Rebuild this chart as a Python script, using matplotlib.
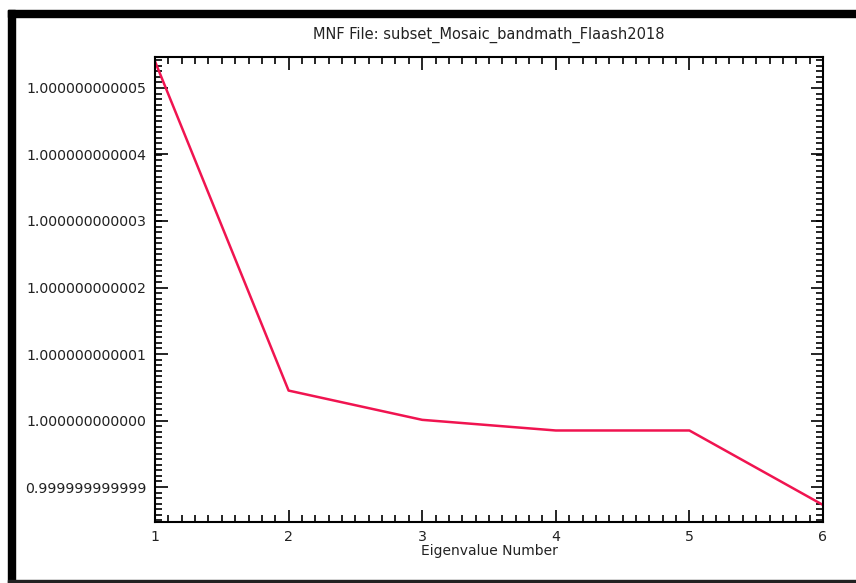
import matplotlib
matplotlib.use('Agg')
import matplotlib.pyplot as plt
from matplotlib.patches import Rectangle
from matplotlib.ticker import MultipleLocator, AutoMinorLocator, FormatStrFormatter

# MNF eigenvalues
eig_number = [1, 2, 3, 4, 5, 6]
eig_value = [1.0000000000054, 1.00000000000045, 1.00000000000001,
             0.99999999999985, 0.99999999999985, 0.99999999999873]

title = 'MNF File: subset_Mosaic_bandmath_Flaash2018'
xlabel = 'Eigenvalue Number'

W, H = 856, 583
fig = plt.figure(figsize=(W / 100, H / 100), dpi=100)
fig.patch.set_facecolor('white')

ax = fig.add_axes([155 / W, 1 - 522 / H, (823 - 155) / W, (522 - 57) / H])
ax.plot(eig_number, eig_value, color='#f01450', lw=1.8)

ax.set_xlim(1, 6)
ax.set_ylim(1 - 1.526e-12, 1 + 5.466e-12)
ax.xaxis.set_major_locator(MultipleLocator(1))
ax.xaxis.set_minor_locator(AutoMinorLocator(10))
ax.yaxis.set_major_locator(MultipleLocator(1e-12))
ax.yaxis.set_minor_locator(AutoMinorLocator(12))
ax.yaxis.set_major_formatter(FormatStrFormatter('%.12f'))
ax.xaxis.set_major_formatter(FormatStrFormatter('%d'))

for s in ax.spines.values():
    s.set_linewidth(1.5)
ax.tick_params(which='both', direction='in', top=True, right=True,
               labelsize=10.2, labelcolor='#222222', width=1.2)
ax.tick_params(which='major', length=9)
ax.tick_params(which='minor', length=5)
ax.tick_params(axis='x', pad=6)
ax.tick_params(axis='y', pad=6)

ax.set_title(title, fontsize=10.5, color='#222222', pad=13)
ax.set_xlabel(xlabel, fontsize=10, color='#222222', labelpad=0)

# black frame of the screenshot (top, left, bottom)
fig.patches.append(Rectangle((8 / W, 1 - 17 / H), 1, 7 / H, transform=fig.transFigure,
                             color='black', zorder=10))
fig.patches.append(Rectangle((8 / W, 1 - 583 / H), 7 / W, 573 / H, transform=fig.transFigure,
                             color='black', zorder=10))
fig.patches.append(Rectangle((8 / W, 0), 1, 3 / H, transform=fig.transFigure,
                             color='#222222', zorder=10))

fig.savefig('out.png', dpi=100)
